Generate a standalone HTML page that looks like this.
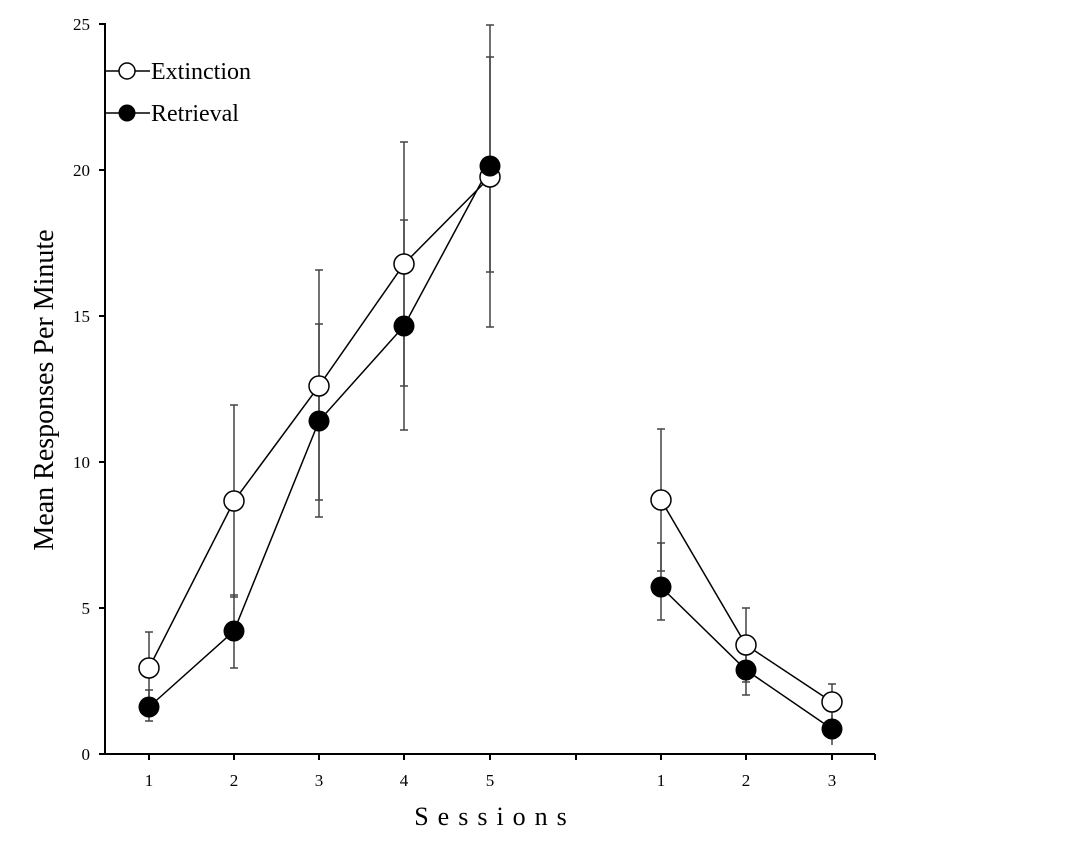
<!DOCTYPE html>
<html><head><style>body{margin:0;background:#fff}</style></head><body>
<svg width="1077" height="858" xmlns="http://www.w3.org/2000/svg" font-family="Liberation Serif, serif">
<g stroke="#000" stroke-width="2" fill="none">
<line x1="105" y1="23" x2="105" y2="755"/>
<line x1="99" y1="754" x2="875" y2="754"/>
<line x1="99" y1="24" x2="105" y2="24"/><line x1="99" y1="170" x2="105" y2="170"/><line x1="99" y1="316" x2="105" y2="316"/><line x1="99" y1="462" x2="105" y2="462"/><line x1="99" y1="608" x2="105" y2="608"/>
<line x1="149" y1="754" x2="149" y2="760"/><line x1="234" y1="754" x2="234" y2="760"/><line x1="319" y1="754" x2="319" y2="760"/><line x1="404" y1="754" x2="404" y2="760"/><line x1="490" y1="754" x2="490" y2="760"/><line x1="576" y1="754" x2="576" y2="760"/><line x1="661" y1="754" x2="661" y2="760"/><line x1="746" y1="754" x2="746" y2="760"/><line x1="832" y1="754" x2="832" y2="760"/><line x1="875" y1="754" x2="875" y2="760"/>
</g>
<g font-size="17" text-anchor="end"><text x="90" y="30">25</text><text x="90" y="176">20</text><text x="90" y="322">15</text><text x="90" y="468">10</text><text x="90" y="614">5</text><text x="90" y="760">0</text></g>
<g font-size="17" text-anchor="middle"><text x="149" y="786">1</text><text x="234" y="786">2</text><text x="319" y="786">3</text><text x="404" y="786">4</text><text x="490" y="786">5</text><text x="661" y="786">1</text><text x="746" y="786">2</text><text x="832" y="786">3</text></g>
<text x="495" y="825" font-size="26" text-anchor="middle" letter-spacing="9">Sessions</text>
<text transform="translate(53,390) rotate(-90)" font-size="28" text-anchor="middle">Mean Responses Per Minute</text>
<g stroke="#444" stroke-width="1.5">
<path d="M149 632V704M145 632H153M145 704H153 M234 405V597M230 405H238M230 597H238 M319 270V500M315 270H323M315 500H323 M404 142V386M400 142H408M400 386H408 M490 57V272M486 57H494M486 272H494 M661 429V571M657 429H665M657 571H665 M746 608V682M742 608H750M742 682H750 M832 684V720M828 684H836M828 720H836"/>
<path d="M149 690V721M145 690H153M145 721H153 M234 595V668M230 595H238M230 668H238 M319 324V517M315 324H323M315 517H323 M404 220V430M400 220H408M400 430H408 M490 25V327M486 25H494M486 327H494 M661 543V620M657 543H665M657 620H665 M746 640V695M742 640H750M742 695H750 M832 715V745"/>
</g>
<g stroke="#000" stroke-width="1.5" fill="none">
<polyline points="149,668 234,501 319,386 404,264 490,177"/><polyline points="661,500 746,645 832,702"/>
<polyline points="149,707 234,631 319,421 404,326 490,166"/><polyline points="661,587 746,670 832,729"/>
<line x1="105" y1="71" x2="150" y2="71"/><line x1="105" y1="113" x2="150" y2="113"/>
</g>
<g stroke="#000" stroke-width="1.5" fill="#fff">
<circle cx="149" cy="668" r="10"/><circle cx="234" cy="501" r="10"/><circle cx="319" cy="386" r="10"/><circle cx="404" cy="264" r="10"/><circle cx="490" cy="177" r="10"/><circle cx="661" cy="500" r="10"/><circle cx="746" cy="645" r="10"/><circle cx="832" cy="702" r="10"/>
<circle cx="127" cy="71" r="8"/>
</g>
<g fill="#000">
<circle cx="149" cy="707" r="10.5"/><circle cx="234" cy="631" r="10.5"/><circle cx="319" cy="421" r="10.5"/><circle cx="404" cy="326" r="10.5"/><circle cx="490" cy="166" r="10.5"/><circle cx="661" cy="587" r="10.5"/><circle cx="746" cy="670" r="10.5"/><circle cx="832" cy="729" r="10.5"/>
<circle cx="127" cy="113" r="8.5"/>
</g>
<g font-size="24"><text x="151" y="79">Extinction</text><text x="151" y="121">Retrieval</text></g>
</svg>
</body></html>
